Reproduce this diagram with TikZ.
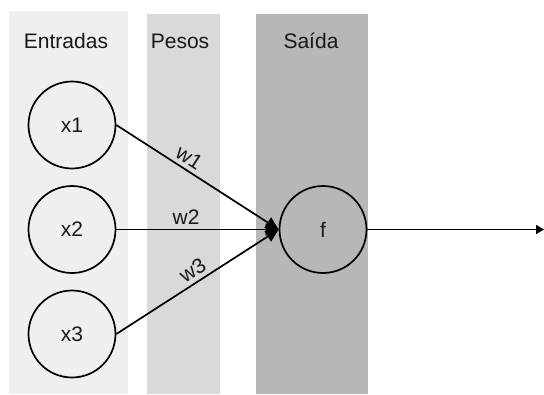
\documentclass[tikz,border=0pt]{standalone}
\usepackage{fontspec}
\setmainfont{Liberation Sans}
\usetikzlibrary{arrows.meta,shapes.geometric}
\definecolor{colA}{HTML}{EFEFEF}
\definecolor{colB}{HTML}{D9D9D9}
\definecolor{colC}{HTML}{B7B7B7}
\begin{document}
\begin{tikzpicture}[x=1pt,y=-1pt,
  txt/.style={font=\fontsize{21}{25}\selectfont, text=black!90, inner sep=0pt},
  neuron/.style={draw, line width=1.7pt, circle, minimum size=87pt, inner sep=0pt, font=\fontsize{21}{25}\selectfont, text=black!90},
  conn/.style={line width=1.7pt},
  tip/.style={-{Triangle[length=13pt,width=12pt]}},
  wl/.style={txt, sloped, above, inner sep=1pt, yshift=3pt}]
\useasboundingbox (0,0) rectangle (544,394);
\fill[colA] (9,11) rectangle (128,394);
\fill[colB] (147,14) rectangle (220,394);
\fill[colC] (256,14) rectangle (368,394);
\node[txt] (hA) at (66,41) {Entradas};
\node[txt] (hB) at (180,41) {Pesos};
\node[txt] (hC) at (311,41) {Saída};
\node[neuron] (x1) at (72,125) {x1};
\node[neuron] (x2) at (72,229.5) {x2};
\node[neuron] (x3) at (72,334) {x3};
\node[neuron] (f) at (323,229.5) {f};
\coordinate (out) at (544,229.5);
\draw[conn, tip] (x1.east) -- node[wl, pos=0.41] {w1} (f.west);
\draw[conn, tip] (x2.east) -- node[wl, pos=0.43] {w2} (f.west);
\draw[conn, tip] (x3.east) -- node[wl, pos=0.51] {w3} (f.west);
\draw[conn, -{Triangle[length=8pt,width=9pt]}] (f.east) -- (out);
\end{tikzpicture}
\end{document}
